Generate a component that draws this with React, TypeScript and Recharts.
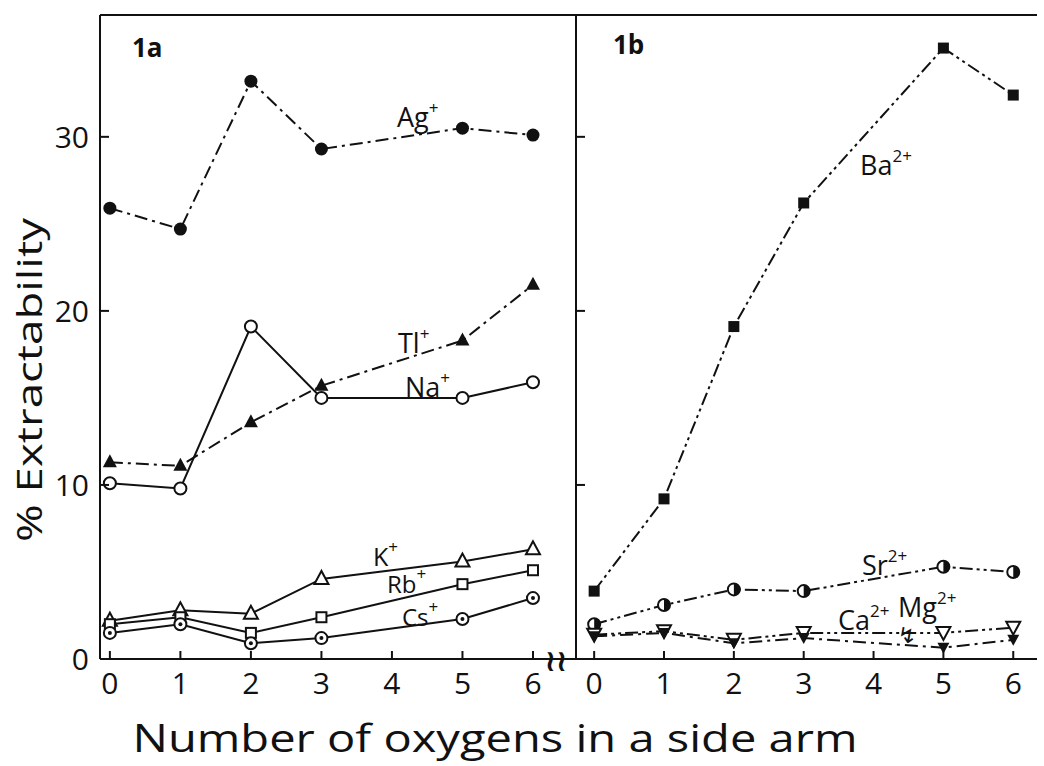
import React from 'react';
import { LineChart, Line, XAxis, YAxis, ReferenceLine } from 'recharts';

// number of oxygens in the side arm (no compound with 4)
const oxygens = [0, 1, 2, 3, 5, 6];
const xTicks = [0, 1, 2, 3, 4, 5, 6];
const yTicks = [0, 10, 20, 30];

// panel 1a: monovalent cations
const ag = [25.9, 24.7, 33.2, 29.3, 30.5, 30.1];
const tl = [11.3, 11.1, 13.6, 15.7, 18.3, 21.5];
const na = [10.1, 9.8, 19.1, 15.0, 15.0, 15.9];
const k = [2.2, 2.8, 2.6, 4.6, 5.6, 6.3];
const rb = [2.0, 2.4, 1.5, 2.4, 4.3, 5.1];
const cs = [1.5, 2.0, 0.9, 1.2, 2.3, 3.5];

// panel 1b: divalent cations
const ba = [3.9, 9.2, 19.1, 26.2, 35.1, 32.4];
const sr = [2.0, 3.1, 4.0, 3.9, 5.3, 5.0];
const ca = [1.4, 1.6, 1.1, 1.5, 1.5, 1.8];
const mg = [1.3, 1.5, 0.9, 1.2, 0.65, 1.1];

const dataA = oxygens.map((x, i) => ({ x, ag: ag[i], tl: tl[i], na: na[i], k: k[i], rb: rb[i], cs: cs[i] }));
const dataB = oxygens.map((x, i) => ({ x, ba: ba[i], sr: sr[i], ca: ca[i], mg: mg[i] }));

const FONT = '"Open Sans", "DejaVu Sans", sans-serif';
const DASH_DOT = '13 5 3 5';
const DASH_DOT_DOT = '13 4 3 4 3 4';
const INK = '#111';

const marker = (kind: string) => (p: any) => {
  const { cx, cy, index } = p;
  const key = `${kind}-${index}`;
  if (cx == null || cy == null) return <g key={key} />;
  switch (kind) {
    case 'filledCircle':
      return <circle key={key} cx={cx} cy={cy} r={6.5} fill={INK} />;
    case 'openCircle':
      return <circle key={key} cx={cx} cy={cy} r={6} fill="#fff" stroke={INK} strokeWidth={2} />;
    case 'dotCircle':
      return (
        <g key={key}>
          <circle cx={cx} cy={cy} r={6} fill="#fff" stroke={INK} strokeWidth={2} />
          <circle cx={cx} cy={cy} r={2} fill={INK} />
        </g>
      );
    case 'halfCircle':
      return (
        <g key={key}>
          <circle cx={cx} cy={cy} r={6} fill="#fff" stroke={INK} strokeWidth={2} />
          <path d={`M${cx},${cy - 6} A6,6 0 0 1 ${cx},${cy + 6} Z`} fill={INK} />
        </g>
      );
    case 'filledTri':
      return <polygon key={key} points={`${cx},${cy - 8} ${cx - 7},${cy + 5} ${cx + 7},${cy + 5}`} fill={INK} />;
    case 'openTri':
      return (
        <polygon key={key} points={`${cx},${cy - 8} ${cx - 7},${cy + 5} ${cx + 7},${cy + 5}`}
          fill="#fff" stroke={INK} strokeWidth={2} />
      );
    case 'openSquare':
      return <rect key={key} x={cx - 5} y={cy - 5} width={10} height={10} fill="#fff" stroke={INK} strokeWidth={2} />;
    case 'filledSquare':
      return <rect key={key} x={cx - 5.5} y={cy - 5.5} width={11} height={11} fill={INK} />;
    case 'openDownTri':
      return (
        <polygon key={key} points={`${cx - 7},${cy - 6} ${cx + 7},${cy - 6} ${cx},${cy + 7}`}
          fill="#fff" stroke={INK} strokeWidth={2} />
      );
    case 'filledDownTri':
      return <polygon key={key} points={`${cx - 6},${cy - 5} ${cx + 6},${cy - 5} ${cx},${cy + 6}`} fill={INK} />;
    default:
      return <g key={key} />;
  }
};

const YTickA = (p: any) => (
  <g>
    <line x1={p.x} x2={p.x + 9} y1={p.y} y2={p.y} stroke={INK} strokeWidth={2} />
    <text x={p.x - 11} y={p.y + 11} textAnchor="end" fontSize={30} fontFamily={FONT} fill={INK}>
      {p.payload.value}
    </text>
  </g>
);

const YTickB = (p: any) => (
  <line x1={p.x} x2={p.x + 9} y1={p.y} y2={p.y} stroke={INK} strokeWidth={2} />
);

const XTick = (p: any) => (
  <g>
    <line x1={p.x} x2={p.x} y1={p.y} y2={p.y - 8} stroke={INK} strokeWidth={2} />
    <text x={p.x} y={p.y + 35} textAnchor="middle" fontSize={30} fontFamily={FONT} fill={INK}>
      {p.payload.value}
    </text>
  </g>
);

const Ion = ({ x, y, base, sup, size = 27 }: { x: number; y: number; base: string; sup: string; size?: number }) => (
  <text x={x} y={y} fontSize={size} fontFamily={FONT} fill={INK}>
    {base}
    <tspan dy={-13} fontSize={17}>{sup}</tspan>
  </text>
);

const axisLine = { stroke: INK, strokeWidth: 2 };

const line = (key: string, dash: string | undefined, kind: string) => (
  <Line
    key={key}
    dataKey={key}
    type="linear"
    stroke={INK}
    strokeWidth={2}
    strokeDasharray={dash}
    dot={marker(kind)}
    activeDot={false}
    isAnimationActive={false}
  />
);

export default function App() {
  return (
    <div style={{ position: 'absolute', left: 0, top: 0, width: 1044, height: 766, background: '#fff' }}>
      <div style={{ position: 'absolute', left: 0, top: 0 }}>
        <LineChart width={586} height={766} data={dataA} margin={{ top: 15, right: 10, bottom: 0, left: 0 }}>
          <XAxis dataKey="x" type="number" domain={[-0.14, 6.61]} ticks={xTicks} height={107}
            axisLine={axisLine} tickLine={false} tickSize={0} tickMargin={0} tick={XTick} />
          <YAxis type="number" domain={[0, 37]} ticks={yTicks} width={100}
            axisLine={axisLine} tickLine={false} tickSize={0} tickMargin={0} tick={YTickA} />
          <ReferenceLine y={37} stroke={INK} strokeWidth={2} />
          {line('ag', DASH_DOT, 'filledCircle')}
          {line('tl', DASH_DOT, 'filledTri')}
          {line('na', undefined, 'openCircle')}
          {line('k', undefined, 'openTri')}
          {line('rb', undefined, 'openSquare')}
          {line('cs', undefined, 'dotCircle')}
        </LineChart>
      </div>
      <div style={{ position: 'absolute', left: 476, top: 0 }}>
        <LineChart width={568} height={766} data={dataB} margin={{ top: 15, right: 7, bottom: 0, left: 0 }}>
          <XAxis dataKey="x" type="number" domain={[-0.26, 6.34]} ticks={xTicks} height={107}
            axisLine={axisLine} tickLine={false} tickSize={0} tickMargin={0} tick={XTick} />
          <YAxis type="number" domain={[0, 37]} ticks={yTicks} width={100}
            axisLine={axisLine} tickLine={false} tickSize={0} tickMargin={0} tick={YTickB} />
          <ReferenceLine y={37} stroke={INK} strokeWidth={2} />
          {line('ba', DASH_DOT_DOT, 'filledSquare')}
          {line('sr', DASH_DOT_DOT, 'halfCircle')}
          {line('ca', DASH_DOT_DOT, 'openDownTri')}
          {line('mg', DASH_DOT, 'filledDownTri')}
        </LineChart>
      </div>
      <svg width={1044} height={766} style={{ position: 'absolute', left: 0, top: 0, pointerEvents: 'none' }}>
        <text x={132} y={57} fontSize={26} fontWeight="bold" fontFamily={FONT} fill={INK}>1a</text>
        <text x={613} y={54} fontSize={26} fontWeight="bold" fontFamily={FONT} fill={INK}>1b</text>
        <Ion x={397} y={127} base="Ag" sup="+" />
        <Ion x={398} y={353} base="Tl" sup="+" />
        <Ion x={405} y={397} base="Na" sup="+" />
        <Ion x={373} y={566} base="K" sup="+" size={25} />
        <Ion x={387} y={593} base="Rb" sup="+" size={24} />
        <Ion x={402} y={626} base="Cs" sup="+" size={24} />
        <Ion x={860} y={175} base="Ba" sup="2+" />
        <Ion x={862} y={575} base="Sr" sup="2+" />
        <Ion x={838} y={630} base="Ca" sup="2+" />
        <Ion x={898} y={617} base="Mg" sup="2+" />
        <text x={907} y={643} fontSize={22} textAnchor="middle" fontFamily='"DejaVu Sans"' fill={INK}>↯</text>
        <text x={556} y={671} fontSize={30} textAnchor="middle" fontFamily='"DejaVu Sans"' fontWeight="bold"
          fill={INK}>≀≀</text>
        <text x={495} y={752} textAnchor="middle" fontSize={38} fontFamily={FONT} fill={INK}
          textLength={725} lengthAdjust="spacingAndGlyphs">
          Number of oxygens in a side arm
        </text>
        <text transform="translate(42,380) rotate(-90)" textAnchor="middle" fontSize={34} fontFamily={FONT}
          fill={INK} textLength={324} lengthAdjust="spacingAndGlyphs">
          % Extractability
        </text>
      </svg>
    </div>
  );
}
